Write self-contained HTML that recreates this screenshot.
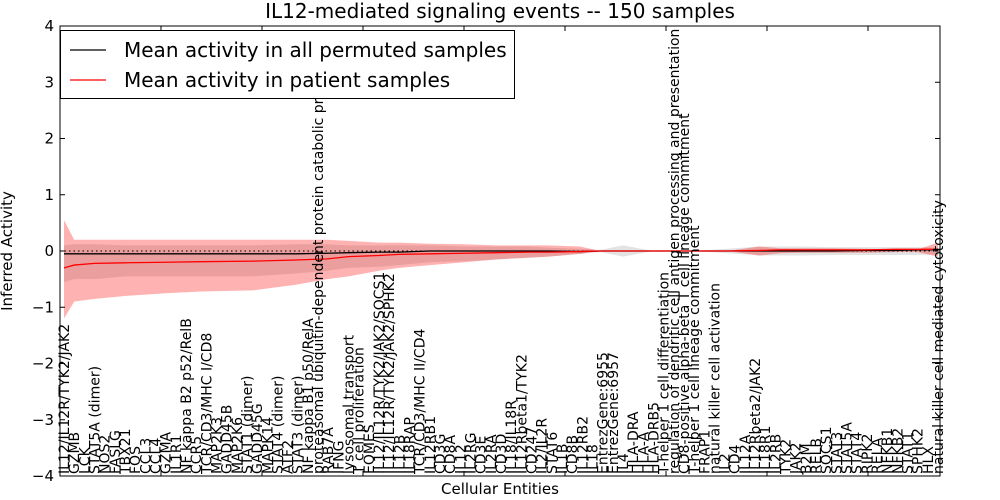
<!DOCTYPE html>
<html><head><meta charset="utf-8"><style>
body{margin:0;background:#fff}
svg{display:block;font-family:"DejaVu Sans","Liberation Sans",sans-serif}
</style></head><body>
<svg id="chart" width="1000" height="500">
<rect width="1000" height="500" fill="#fff"/>
<text x="500" y="18" text-anchor="middle" font-size="20">IL12-mediated signaling events -- 150 samples</text>
<g id="plot"></g>
<text x="500" y="494" text-anchor="middle" font-size="15">Cellular Entities</text>
<text transform="translate(12,251) rotate(-90)" text-anchor="middle" font-size="15">Inferred Activity</text>
</svg>
<script>
const labels=["IL12/IL12R/TYK2/JAK2","GZMB","LCK","STAT5A (dimer)","NOS2","FASLG","TBX21","FOS","CCL3","CCL4","GZMA","IL1R1","NF kappa B2 p52/RelB","CCR5","TCR/CD3/MHC I/CD8","MAP2K3","GADD45B","MAP2K6","STAT1 (dimer)","GADD45G","MAPK14","STAT4 (dimer)","ATF2","STAT3 (dimer)","NF kappa B1 p50/RelA","proteasomal ubiquitin-dependent protein catabolic process","RAB7A","IFNG","lysosomal transport","T cell proliferation","EOMES","IL12/IL12R/TYK2/JAK2/SOCS1","IL12/IL12R/TYK2/JAK2/SPHK2","IL12B","IL18RAP","TCR/CD3/MHC II/CD4","IL12RB1","CD3G","CD8A","IL12","IL2RG","CD3E","IL2RA","CD3D","IL18/IL18R","IL12Rbeta1/TYK2","CD247","IL2/IL2R","STAT6","IL1B","CD8B","IL12RB2","IL18","EntrezGene:6955","EntrezGene:6957","IL4","HLA-DRA","HLA-A","HLA-DRB5","T-helper 1 cell differentiation","regulation of dendritic cell antigen processing and presentation","CD8-positive alpha-beta T cell lineage commitment","T-helper 1 cell lineage commitment","FRAP1","natural killer cell activation","IL2","CD4","IL12A","IL12Rbeta2/JAK2","IL18R1","IL2RB","TYK2","JAK2","B2M","RELB","SOCS1","STAT3","STAT5A","STAT4","RIPK2","RELA","NFKB1","NFKB2","STAT1","SPHK2","HLX","natural killer cell mediated cytotoxicity"];
const idx=[0,1,3,6,10,13.5,18.6,22.8,25.9,28,31,33,36,39.4,42.5,45.6,47.7,50.8,52.8,55,58,62,65.3,68.4,70.5,72.5,75.6,78.7,81.8,84,86];
const patientMean=[-0.3,-0.25,-0.22,-0.21,-0.2,-0.19,-0.18,-0.16,-0.14,-0.1,-0.08,-0.06,-0.05,-0.04,-0.03,-0.02,-0.02,-0.01,0,0,0,0,0,0.01,0.02,0.02,0.02,0.02,0.03,0.03,0.03];
const permMean=[-0.05,-0.05,-0.05,-0.05,-0.05,-0.05,-0.05,-0.05,-0.04,-0.03,-0.02,-0.02,0,0,0,0,0,-0.01,0,0,0,0,0,0,0,0,0,0.01,0.01,0.02,0.02];
const redUpper=[0.55,0.2,0.2,0.2,0.2,0.2,0.2,0.2,0.2,0.18,0.15,0.15,0.13,0.12,0.1,0.1,0.1,0.08,0,0,0,0,0,0.08,0.05,0.05,0.05,0.04,0.03,0.03,0.15];
const redLower=[-1.2,-0.9,-0.85,-0.8,-0.75,-0.72,-0.7,-0.6,-0.5,-0.45,-0.35,-0.3,-0.25,-0.2,-0.15,-0.12,-0.1,-0.05,0,0,0,0,0,-0.08,-0.04,-0.03,-0.03,-0.03,-0.02,-0.02,-0.1];
const greyUpper=[0.1,0.12,0.12,0.1,0.1,0.1,0.1,0.12,0.12,0.1,0.1,0.1,0.1,0.08,0.08,0.08,0.06,0.04,0.02,0.1,0,0,0.04,0.08,0.08,0.08,0.07,0.07,0.07,0.07,0.06];
const greyLower=[-0.55,-0.5,-0.5,-0.45,-0.45,-0.45,-0.45,-0.4,-0.35,-0.3,-0.28,-0.25,-0.2,-0.18,-0.15,-0.12,-0.1,-0.05,-0.02,-0.1,0,0,-0.04,-0.08,-0.08,-0.08,-0.07,-0.07,-0.07,-0.07,-0.06];
const yTicks=[-4,-3,-2,-1,0,1,2,3,4];

const L=60,R=940,T=26,B=476;
const NS="http://www.w3.org/2000/svg";
const x=i=>64+i*(874/(labels.length-1));
const y=v=>T+(4-v)*(B-T)/8;
const g=document.getElementById('plot');
function mk(t,a){const e=document.createElementNS(NS,t);for(const k in a)e.setAttribute(k,a[k]);g.appendChild(e);return e;}
function band(up,lo){let d='M'+idx.map((i,k)=>x(i)+','+y(up[k])).join('L');for(let k=idx.length-1;k>=0;k--)d+='L'+x(idx[k])+','+y(lo[k]);return d+'Z';}
function line(v){return 'M'+idx.map((i,k)=>x(i)+','+y(v[k])).join('L');}

let e=mk('path',{d:band(greyUpper,greyLower),fill:'rgba(128,128,128,0.22)',stroke:'none'});


e=mk('path',{d:band(redUpper,redLower),fill:'rgba(255,0,0,0.3)',stroke:'none'});


e=mk('line',{x1:L,x2:R,y1:y(0),y2:y(0),stroke:'#000','stroke-dasharray':'1.5,3'});


e=mk('path',{d:line(permMean),fill:'none',stroke:'#000','stroke-width':1.3});


e=mk('path',{d:line(patientMean),fill:'none',stroke:'#f00','stroke-width':1.3});



yTicks.forEach(v=>{
  let t=mk('line',{x1:L,x2:L+5,y1:y(v),y2:y(v),stroke:'#000'});
  
  
  mk('line',{x1:R-5,x2:R,y1:y(v),y2:y(v),stroke:'#000'});
  t=mk('text',{x:L-6,y:y(v)+5,'text-anchor':'end','font-size':15});
  t.textContent=(v<0?'\u2212'+(-v):v);
  
  
});
for(let k=0;k<=8;k++){
  const xx=L+101*k;
  mk('line',{x1:xx,x2:xx,y1:T,y2:T+5,stroke:'#000'});
  mk('line',{x1:xx,x2:xx,y1:B-5,y2:B,stroke:'#000'});
}
labels.forEach((s,i)=>{
  const t=mk('text',{transform:`translate(${x(i)+5},${B-2}) rotate(-90)`,'font-size':14});
  t.textContent=s;
  
  
});
e=mk('rect',{x:L,y:T,width:R-L,height:B-T,fill:'none',stroke:'#000'});



const lg=mk('g',{});


lg.innerHTML='<rect x="60.5" y="30.5" width="454" height="68" fill="#fff" stroke="#000"/>'+
'<line x1="70" x2="106" y1="50" y2="50" stroke="#000" stroke-width="1.3"/><text x="124" y="57" font-size="20">Mean activity in all permuted samples</text>'+
'<line x1="70" x2="106" y1="80" y2="80" stroke="#f00" stroke-width="1.3"/><text x="124" y="87" font-size="20">Mean activity in patient samples</text>';
</script>
</body></html>
